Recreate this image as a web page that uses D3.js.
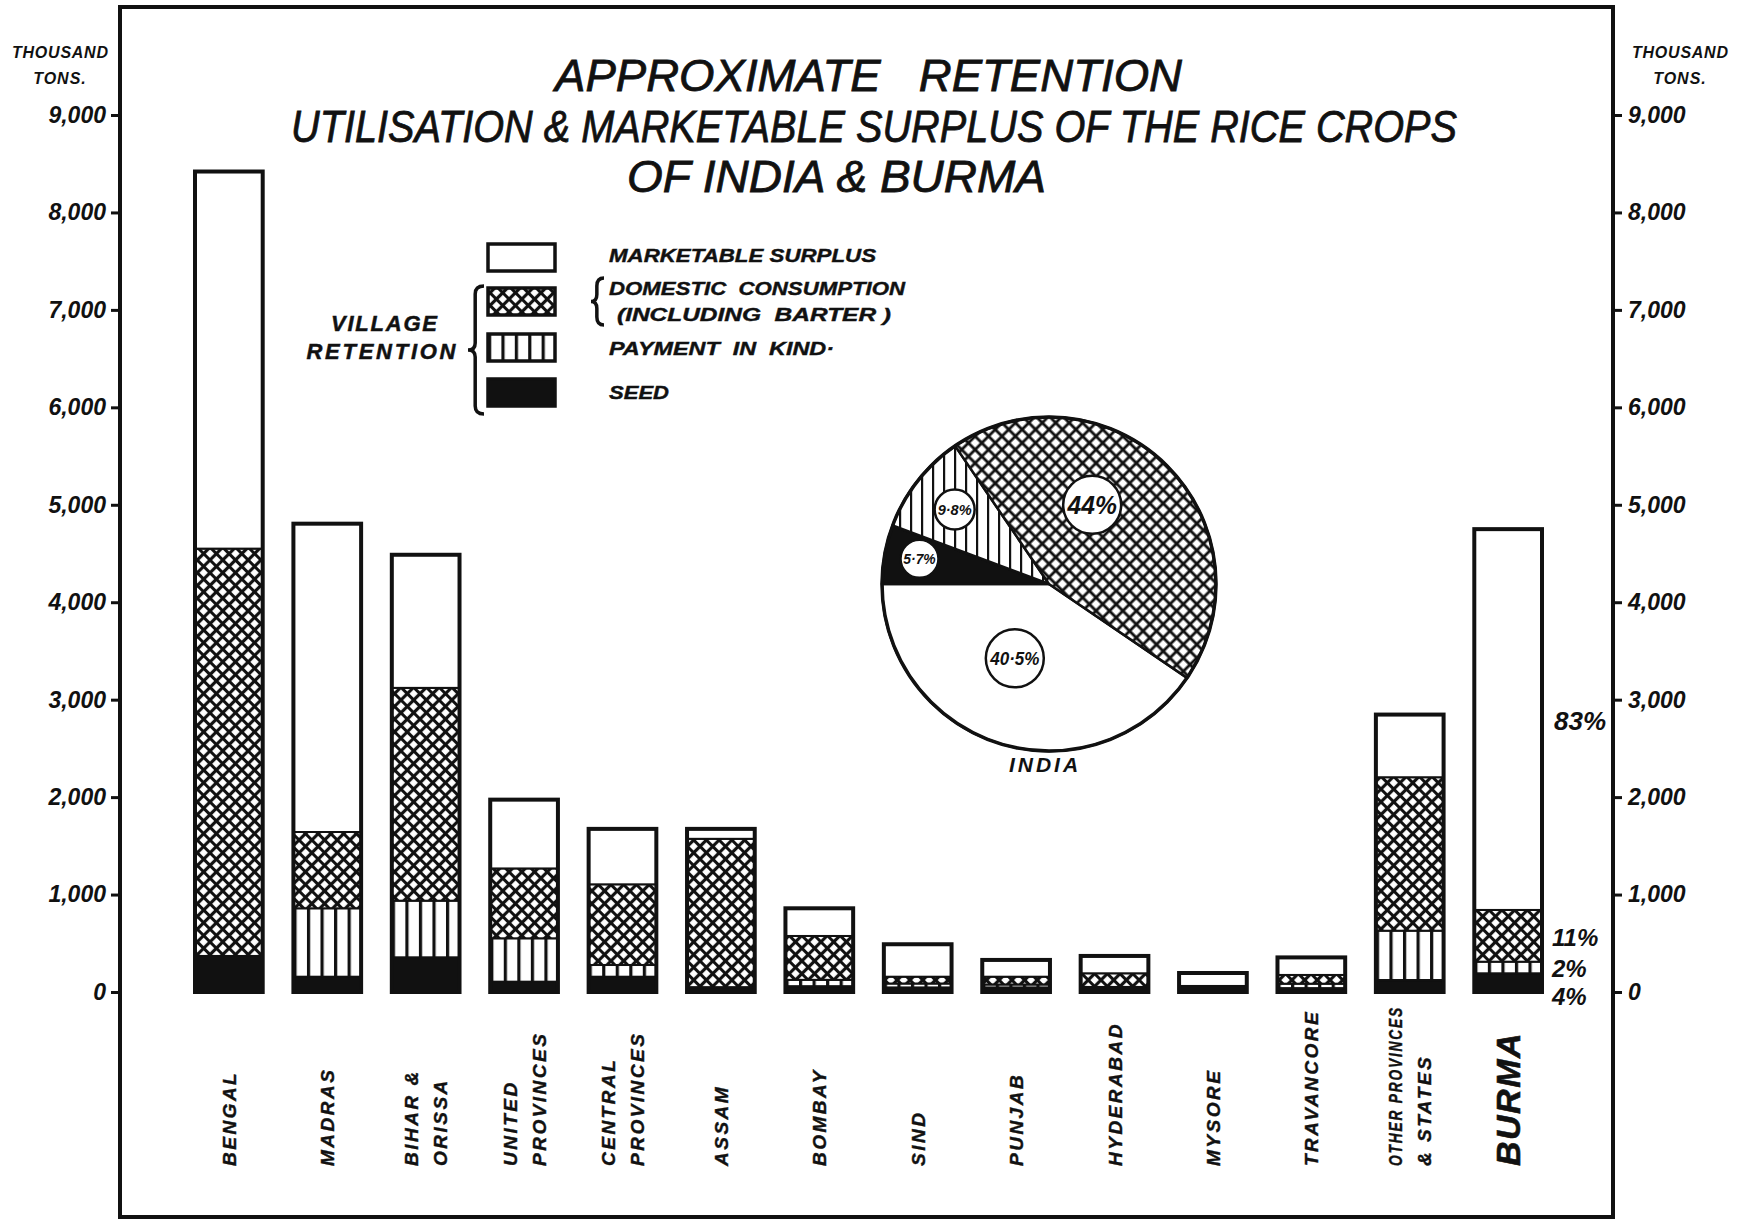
<!DOCTYPE html>
<html>
<head>
<meta charset="utf-8">
<script src="https://cdn.jsdelivr.net/npm/d3@7"></script>
<style>
  body { margin: 0; background: #fff; }
  svg text { font-family: "Liberation Sans", Arial, sans-serif; font-weight: bold; font-style: italic; fill: #111; }
</style>
</head>
<body>
<svg id="chart" width="1740" height="1222"></svg>
<script>
// ---- data (thousand tons) ----
const categories = ["BENGAL", "MADRAS", "BIHAR & ORISSA", "UNITED PROVINCES", "CENTRAL PROVINCES",
  "ASSAM", "BOMBAY", "SIND", "PUNJAB", "HYDERABAD", "MYSORE", "TRAVANCORE",
  "OTHER PROVINCES & STATES", "BURMA"];
const labelLines = [["BENGAL"], ["MADRAS"], ["BIHAR &", "ORISSA"], ["UNITED", "PROVINCES"],
  ["CENTRAL", "PROVINCES"], ["ASSAM"], ["BOMBAY"], ["SIND"], ["PUNJAB"], ["HYDERABAD"],
  ["MYSORE"], ["TRAVANCORE"], ["OTHER PROVINCES", "& STATES"], ["BURMA"]];

const seed       = [370, 157, 356, 106, 157,   50,  60,  47,  47,  52,  62,  40, 123,  192];
const payment    = [  0, 702, 581, 445, 120,    0,  65,  40,  30,   0,   0,  45, 506,  119];
const domestic   = [4180, 783, 2184, 717, 828, 1522, 450,  70,  80, 140,   0,  90, 1575, 531];
const marketable = [3870, 3164, 1366, 706, 569,  102, 284, 333, 172, 178, 133, 180, 643, 3908];

const yTicks = [0, 1000, 2000, 3000, 4000, 5000, 6000, 7000, 8000, 9000];

const burmaShares = ["4%", "2%", "11%", "83%"]; // seed, payment, domestic, marketable

const pieKeys   = ["marketable", "seed", "payment", "domestic"];
const pieValues = [40.5, 5.7, 9.8, 44];
const pieLabels = ["40·5%", "5·7%", "9·8%", "44%"];

const legendKeys = ["marketable", "domestic", "payment", "seed"];

// ---- layout ----
const svg = d3.select("#chart");
const frame = { left: 120, top: 7, right: 1613, bottom: 1217 };

const keys = ["seed", "payment", "domestic", "marketable"];
const rows = categories.map((c, i) => ({
  cat: c, seed: seed[i], payment: payment[i], domestic: domestic[i], marketable: marketable[i]
}));
const stacked = d3.stack().keys(keys)(rows);

const x = d3.scaleBand().domain(categories).range([195, 1542]).paddingInner(0.312).paddingOuter(0);
const y = d3.scaleLinear().domain([0, 9000]).range([992, 115]);

// patterns
const defs = svg.append("defs");
const hatch = defs.append("pattern").attr("id", "hatch").attr("patternUnits", "userSpaceOnUse")
  .attr("width", 9).attr("height", 9).attr("patternTransform", "rotate(45)");
hatch.append("rect").attr("width", 9).attr("height", 9).attr("fill", "#fff");
hatch.append("path").attr("d", "M0,4.5H9M4.5,0V9").attr("stroke", "#111").attr("stroke-width", 3.2);

const hatchPie = defs.append("pattern").attr("id", "hatchPie").attr("patternUnits", "userSpaceOnUse")
  .attr("width", 9.5).attr("height", 9.5).attr("patternTransform", "rotate(45)");
hatchPie.append("rect").attr("width", 9.5).attr("height", 9.5).attr("fill", "#fff");
hatchPie.append("path").attr("d", "M0,4.75H9.5M4.75,0V9.5").attr("stroke", "#111").attr("stroke-width", 2.8);

const stripes = defs.append("pattern").attr("id", "stripes").attr("patternUnits", "objectBoundingBox")
  .attr("width", 0.2).attr("height", 1);
stripes.append("rect").attr("width", 40).attr("height", 2000).attr("fill", "#fff");
stripes.append("rect").attr("width", 3.2).attr("height", 2000).attr("fill", "#111");

const stripesPie = defs.append("pattern").attr("id", "stripesPie").attr("patternUnits", "userSpaceOnUse")
  .attr("width", 11).attr("height", 11);
stripesPie.append("rect").attr("width", 11).attr("height", 11).attr("fill", "#fff");
stripesPie.append("rect").attr("x", 4).attr("width", 2.2).attr("height", 11).attr("fill", "#111");

const fills = { marketable: "#fff", domestic: "url(#hatch)", payment: "url(#stripes)", seed: "#111" };
const pieFills = { marketable: "#fff", domestic: "url(#hatchPie)", payment: "url(#stripesPie)", seed: "#111" };

// frame
svg.append("rect")
  .attr("x", frame.left).attr("y", frame.top)
  .attr("width", frame.right - frame.left).attr("height", frame.bottom - frame.top)
  .attr("fill", "none").attr("stroke", "#111").attr("stroke-width", 4);

// title
const title = svg.append("g");
[
  { t: "APPROXIMATE   RETENTION", x: 555, y: 91, len: 627 },
  { t: "UTILISATION & MARKETABLE SURPLUS OF THE RICE CROPS", x: 291, y: 142, len: 1166 },
  { t: "OF INDIA & BURMA", x: 627, y: 192, len: 419 }
].forEach(d => {
  title.append("text").attr("x", d.x).attr("y", d.y)
    .attr("textLength", d.len).attr("lengthAdjust", "spacingAndGlyphs")
    .style("font-size", "44px").style("font-weight", "normal").style("stroke", "#111").style("stroke-width", 0.8)
    .attr("xml:space", "preserve")
    .text(d.t);
});

// axes
const styleAxis = g => {
  g.select(".domain").remove();
  g.selectAll(".tick line").attr("stroke", "#111").attr("stroke-width", 3);
  g.selectAll(".tick text").style("font-size", "23px").style("font-family", "'Liberation Sans', Arial, sans-serif")
    .style("font-weight", "bold").style("font-style", "italic").attr("fill", "#111");
};
svg.append("g").attr("transform", `translate(${frame.left},0)`)
  .call(d3.axisLeft(y).tickValues(yTicks).tickSize(9).tickPadding(5).tickFormat(d3.format(",")))
  .call(styleAxis);
svg.append("g").attr("transform", `translate(${frame.right},0)`)
  .call(d3.axisRight(y).tickValues(yTicks).tickSize(9).tickPadding(6).tickFormat(d3.format(",")))
  .call(styleAxis);

[60, 1680].forEach(cx => {
  svg.append("text").attr("x", cx).attr("y", 58).attr("text-anchor", "middle")
    .attr("textLength", 96).style("font-size", "16px").text("THOUSAND");
  svg.append("text").attr("x", cx).attr("y", 84).attr("text-anchor", "middle")
    .style("font-size", "16px").style("letter-spacing", "1px").text("TONS.");
});

// bars
const bars = svg.append("g");
stacked.forEach(series => {
  bars.selectAll(`.seg-${series.key}`)
    .data(series.filter(d => d[1] - d[0] > 0))
    .join("rect")
    .attr("class", `seg-${series.key}`)
    .attr("x", d => x(d.data.cat))
    .attr("y", d => y(d[1]))
    .attr("width", x.bandwidth())
    .attr("height", d => y(d[0]) - y(d[1]))
    .attr("fill", fills[series.key])
    .attr("stroke", "#111").attr("stroke-width", 2);
});
bars.selectAll(".outline")
  .data(stacked[stacked.length - 1])
  .join("rect")
  .attr("class", "outline")
  .attr("x", d => x(d.data.cat))
  .attr("y", d => y(d[1]))
  .attr("width", x.bandwidth())
  .attr("height", d => y(0) - y(d[1]))
  .attr("fill", "none").attr("stroke", "#111").attr("stroke-width", 4);

// Burma percentages
const burmaX = x("BURMA") + x.bandwidth() + 10;
stacked.forEach((series, i) => {
  const d = series[categories.indexOf("BURMA")];
  const mid = y((d[0] + d[1]) / 2);
  svg.append("text")
    .attr("x", burmaX + (i === 3 ? 2 : 0))
    .attr("y", mid + (i === 0 ? 22 : 10))
    .style("font-size", i === 3 ? "26px" : "24px")
    .text(burmaShares[i]);
});

// category labels
const labY = 1166;
categories.forEach((c, i) => {
  const lines = labelLines[i];
  const big = c === "BURMA";
  const g = svg.append("g").attr("transform", `translate(${x(c) + x.bandwidth() / 2},${labY}) rotate(-90)`);
  lines.forEach((ln, j) => {
    const t = g.append("text")
      .attr("x", 0)
      .attr("y", (j - (lines.length - 1) / 2) * 29 + (big ? 12 : 7))
      .style("font-size", big ? "34px" : "19px")
      .style("letter-spacing", big ? "1.5px" : "2.5px")
      .style("stroke", "#111").style("stroke-width", big ? 0.6 : 0.4)
      .text(ln);
    if (t.node().getComputedTextLength() > 160) t.attr("textLength", 160).attr("lengthAdjust", "spacingAndGlyphs");
  });
});

// legend
const legendY = { marketable: 244, domestic: 288, payment: 334, seed: 379 };
const legend = svg.append("g");
legendKeys.forEach(k => {
  legend.append("rect")
    .attr("x", 488).attr("y", legendY[k]).attr("width", 67).attr("height", 27)
    .attr("fill", fills[k]).attr("stroke", "#111").attr("stroke-width", 3.5);
});
[
  { t: "MARKETABLE SURPLUS", x: 609, y: 262, len: 267 },
  { t: "DOMESTIC  CONSUMPTION", x: 609, y: 295, len: 296 },
  { t: "(INCLUDING  BARTER )", x: 617, y: 321, len: 274 },
  { t: "PAYMENT  IN  KIND·", x: 609, y: 355, len: 225 },
  { t: "SEED", x: 609, y: 399, len: 60 }
].forEach(d => {
  legend.append("text").attr("x", d.x).attr("y", d.y).attr("textLength", d.len)
    .attr("lengthAdjust", "spacingAndGlyphs").style("font-size", "18px")
    .style("stroke", "#111").style("stroke-width", 0.4)
    .attr("xml:space", "preserve").text(d.t);
});
legend.append("text").attr("x", 384).attr("y", 331).attr("text-anchor", "middle")
  .attr("textLength", 106).style("font-size", "22px").style("stroke", "#111").style("stroke-width", 0.5).text("VILLAGE");
legend.append("text").attr("x", 381).attr("y", 359).attr("text-anchor", "middle")
  .attr("textLength", 149).style("font-size", "22px").style("stroke", "#111").style("stroke-width", 0.5).text("RETENTION");

const brace = (xr, y0, y1, w) => {
  const xm = xr - w * 0.55, xl = xr - w, ym = (y0 + y1) / 2;
  return `M${xr},${y0} Q${xm},${y0} ${xm},${y0 + 8} L${xm},${ym - 7} Q${xm},${ym} ${xl},${ym}` +
    ` Q${xm},${ym} ${xm},${ym + 7} L${xm},${y1 - 8} Q${xm},${y1} ${xr},${y1}`;
};
legend.append("path").attr("d", brace(484, 286, 414, 16)).attr("fill", "none").attr("stroke", "#111").attr("stroke-width", 3.5);
legend.append("path").attr("d", brace(604, 278, 325, 13)).attr("fill", "none").attr("stroke", "#111").attr("stroke-width", 3.5);

// pie
const pieC = { x: 1049, y: 584 }, pieR = 167;
const pie = d3.pie().sort(null).value(d => d.v)
  .startAngle(124.2 * Math.PI / 180).endAngle(124.2 * Math.PI / 180 + 2 * Math.PI);
const arcs = pie(pieKeys.map((k, i) => ({ k, v: pieValues[i], label: pieLabels[i] })));
const arc = d3.arc().innerRadius(0).outerRadius(pieR);
const pg = svg.append("g").attr("transform", `translate(${pieC.x},${pieC.y})`);
pg.selectAll("path.slice").data(arcs).join("path")
  .attr("class", "slice")
  .attr("d", arc)
  .attr("fill", d => pieFills[d.data.k])
  .attr("stroke", "#111").attr("stroke-width", 2.5).attr("stroke-linejoin", "round");
pg.append("circle").attr("r", pieR).attr("fill", "none").attr("stroke", "#111").attr("stroke-width", 3.5);

// label placement (angle in degrees clockwise from north, radius fraction, bubble radius, font size)
const pieLabelAt = {
  marketable: [204.7, 0.49, 29, 19],
  seed: [281, 0.79, 19, 14],
  payment: [308.3, 0.72, 20, 14],
  domestic: [28.6, 0.54, 29, 25]
};
arcs.forEach(a => {
  const [ang, fr, br, fs] = pieLabelAt[a.data.k];
  const t = ang * Math.PI / 180, r = fr * pieR;
  const px = Math.sin(t) * r, py = -Math.cos(t) * r;
  pg.append("circle").attr("cx", px).attr("cy", py).attr("r", br)
    .attr("fill", "#fff").attr("stroke", "#111").attr("stroke-width", 2.5);
  pg.append("text").attr("x", px).attr("y", py + fs * 0.36).attr("text-anchor", "middle")
    .attr("textLength", br * 1.7).attr("lengthAdjust", "spacingAndGlyphs")
    .style("font-size", fs + "px").text(a.data.label);
});
svg.append("text").attr("x", 1045).attr("y", 772).attr("text-anchor", "middle")
  .style("font-size", "21px").style("letter-spacing", "3px").text("INDIA");
</script>
</body>
</html>
